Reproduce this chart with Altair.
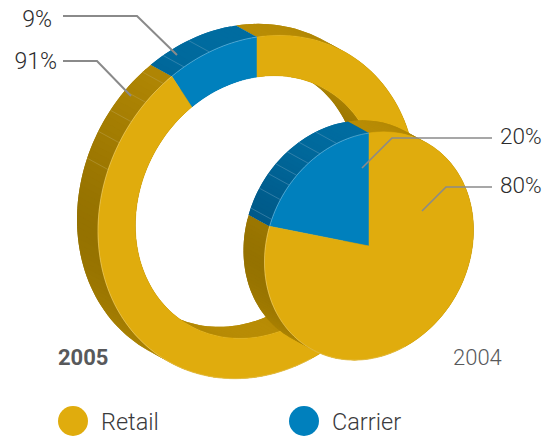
import math
import altair as alt
import pandas as pd

# ---- data ----
categories = ["Retail", "Carrier"]
carrier_share = {"2005": 9, "2004": 20}
retail_share = {"2005": 91, "2004": 80}
year_labels = ["2005", "2004"]
share_labels = ["9%", "91%", "20%", "80%"]

GOLD, BLUE = "#E0AC0D", "#0080BD"
GOLD_WALL = ("#957200", "#B88C05")
BLUE_WALL = ("#005583", "#006CA0")
TICK_GOLD, TICK_BLUE = "#BBA04A", "#5E9BBD"
EDGE_GOLD, EDGE_BLUE = "#EBCF78", "#86C2E2"

# geometry of the two tilted discs (page pixels)
DEPTH = (-21, -11.5)
ring = dict(c=(257, 207), u=(159, -24), v=(0, -170), hole=0.765)
pie = dict(c=(369, 246), u=(104.5, -16), v=(0, -113), hole=0.0)
ring_ticks = [-17.4, -27.3, -36, -44.4, -52.2, -60, -69.4]
pie_ticks = [-18, -28, -35.5, -43.7, -49.7, -58, -68.5]


def pt(d, t, k=1.0, off=(0, 0)):
    r = math.radians(t)
    s, c = math.sin(r), math.cos(r)
    return (
        d["c"][0] + k * (s * d["u"][0] + c * d["v"][0]) + off[0],
        d["c"][1] + k * (s * d["u"][1] + c * d["v"][1]) + off[1],
    )


def lerp(pair, f):
    a, b = pair
    ca = [int(a[i:i + 2], 16) for i in (1, 3, 5)]
    cb = [int(b[i:i + 2], 16) for i in (1, 3, 5)]
    return "#%02X%02X%02X" % tuple(round(x + (y - x) * f) for x, y in zip(ca, cb))


rows = []
n = [0]


def add(points, fill, stroke=None, close=True):
    n[0] += 1
    pts = list(points) + ([points[0]] if close else [])
    for i, (x, y) in enumerate(pts):
        rows.append(dict(piece=n[0], o=i, x=x, y=y, fill=fill, stroke=stroke or fill))


def frange(a, b, step=2.0):
    m = max(1, int(abs(b - a) / step + 0.5))
    return [a + (b - a) * i / m for i in range(m + 1)]


def walls(d, k, carrier):
    split = -carrier * 3.6
    for a, b, pair in ((split, -360, GOLD_WALL), (0, split, BLUE_WALL)):
        ts = frange(a, b)
        # painted last-to-first: every band runs on into the next one,
        # so it only overpaints and no seam can show
        for t0 in reversed(ts[:-1]):
            f = abs(math.cos(math.radians(t0 + (b - a) / (2 * (len(ts) - 1))))) ** 1.6
            span = [t for t in ts if (t <= t0 if b < a else t >= t0)][:3]
            add(
                [pt(d, t, k) for t in span] + [pt(d, t, k, DEPTH) for t in reversed(span)],
                lerp(pair, f),
                "transparent",
            )


def face(d, a, b, col):
    ts = frange(a, b)
    outer = [pt(d, t) for t in ts]
    inner = [pt(d, t, d["hole"]) for t in reversed(ts)]
    add(outer + inner, col)


def disc(d, carrier, ticks):
    split = -carrier * 3.6
    walls(d, 1.0, carrier)
    if d["hole"]:
        walls(d, d["hole"], carrier)
    for t in ticks:
        add([pt(d, t), pt(d, t, 1.0, DEPTH)], "transparent", TICK_BLUE if t > split else TICK_GOLD, close=False)
    face(d, 0, split, BLUE)
    face(d, split, -360, GOLD)
    add([pt(d, t) for t in frange(0, split)], "transparent", EDGE_BLUE, close=False)
    add([pt(d, t) for t in frange(split, -200)], "transparent", EDGE_GOLD, close=False)


disc(ring, carrier_share["2005"], ring_ticks)
disc(pie, carrier_share["2004"], pie_ticks)

X = alt.Scale(domain=[8, 543], range=[0, 535])
Y = alt.Scale(domain=[8, 436], range=[0, 428])
ax = dict(axis=None, scale=X)
ay = dict(axis=None, scale=Y)

shapes = alt.Chart(pd.DataFrame(rows)).mark_line(strokeWidth=0.5, strokeCap="butt").encode(
    x=alt.X("x:Q", **ax),
    y=alt.Y("y:Q", **ay),
    order="o:Q",
    detail="piece:N",
    fill=alt.Fill("fill:N", scale=None),
    stroke=alt.Stroke("stroke:N", scale=None),
)

# leader lines
leaders_left = pd.DataFrame(
    [
        dict(k="a", o=0, x=63, y=16), dict(k="a", o=1, x=137, y=16), dict(k="a", o=2, x=177, y=55),
        dict(k="b", o=0, x=63, y=61), dict(k="b", o=1, x=97, y=61), dict(k="b", o=2, x=131, y=96),
    ]
)
leaders_right = pd.DataFrame(
    [
        dict(k="c", o=0, x=492, y=138), dict(k="c", o=1, x=392, y=138), dict(k="c", o=2, x=362, y=168),
        dict(k="d", o=0, x=492, y=187), dict(k="d", o=1, x=446, y=187), dict(k="d", o=2, x=422, y=211),
    ]
)


def leader(df, w):
    return alt.Chart(df).mark_line(color="#8A8A8A", strokeWidth=w).encode(
        x=alt.X("x:Q", **ax), y=alt.Y("y:Q", **ay), order="o:Q", detail="k:N"
    )


FONT = "Roboto"


def text_layer(df, align, color, size, weight):
    return alt.Chart(df).mark_text(
        align=align, baseline="middle", font=FONT, fontSize=size, fontWeight=weight, color=color
    ).encode(x=alt.X("x:Q", **ax), y=alt.Y("y:Q", **ay), text="t:N")


left_labels = text_layer(
    pd.DataFrame(dict(t=share_labels[:2], x=[52, 57], y=[20, 62])), "right", "#2B2B2D", 23, 300
)
right_labels = text_layer(
    pd.DataFrame(dict(t=share_labels[2:], x=[500, 500], y=[137, 186])), "left", "#2B2B2D", 22.5, 300
)
y2005 = text_layer(pd.DataFrame(dict(t=[year_labels[0]], x=[58], y=[358])), "left", "#58595B", 22, 700)
y2004 = text_layer(pd.DataFrame(dict(t=[year_labels[1]], x=[453], y=[358])), "left", "#58595B", 22, 300)
legend_text = text_layer(
    pd.DataFrame(dict(t=categories, x=[101, 332], y=[423, 423])), "left", "#3A3A3C", 23.5, 300
)
legend_dots = alt.Chart(pd.DataFrame(dict(t=categories, x=[73, 304], y=[421, 421]))).mark_point(
    filled=True, shape="circle", size=900, opacity=1
).encode(
    x=alt.X("x:Q", **ax),
    y=alt.Y("y:Q", **ay),
    color=alt.Color("t:N", scale=alt.Scale(domain=categories, range=[GOLD, BLUE]), legend=None),
)

chart = (
    alt.layer(
        shapes, leader(leaders_left, 2), leader(leaders_right, 1.6),
        left_labels, right_labels, y2005, y2004, legend_dots, legend_text,
    )
    .resolve_scale(color="independent")
    .properties(width=535, height=428, padding=0, autosize=alt.AutoSizeParams(type="none"))
    .configure_view(stroke=None)
)
chart.save("out.html", embed_options={"renderer": "svg", "actions": False})
